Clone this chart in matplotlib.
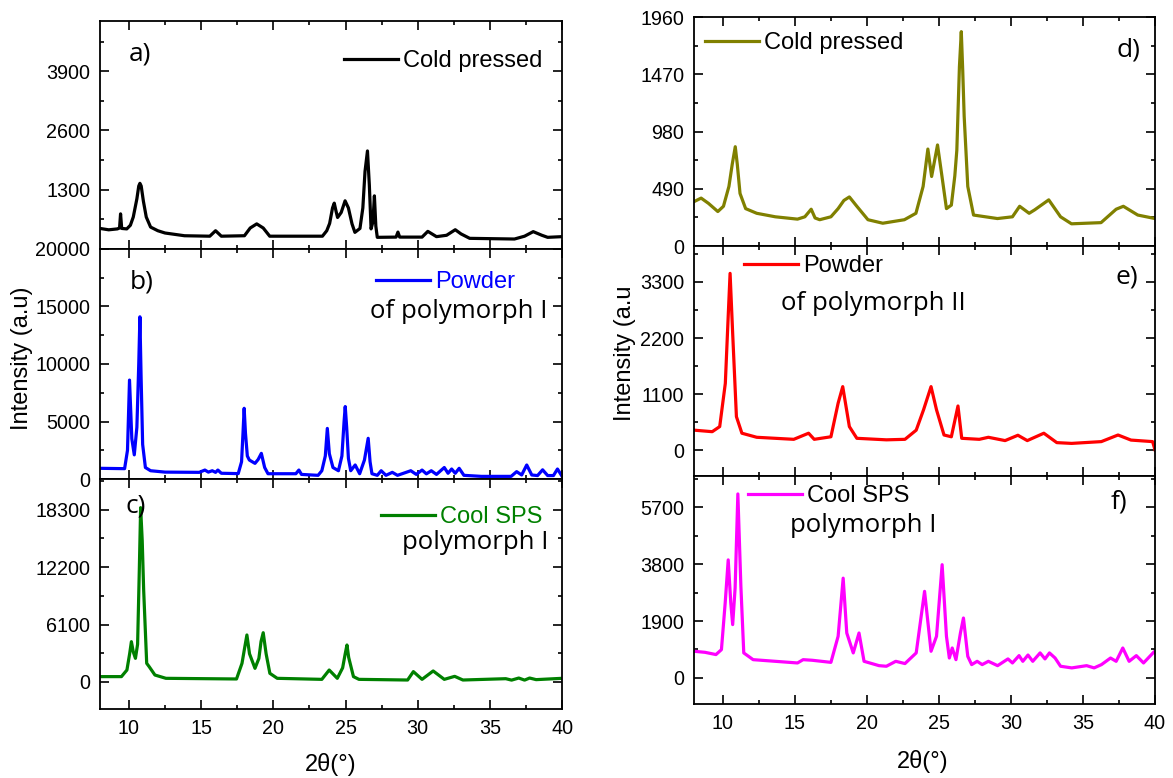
import matplotlib
matplotlib.use('Agg')
import matplotlib.pyplot as plt
from matplotlib.ticker import MultipleLocator, FixedLocator

plt.rcParams['font.family'] = ['Liberation Sans', 'DejaVu Sans']

# 2theta / intensity points, one list pair per pattern
a_x = [8.0, 8.6, 9.2, 9.35, 9.42, 9.5, 9.85, 10.1, 10.3, 10.55, 10.68, 10.76, 10.85, 11.0, 11.2, 11.5, 12.0, 12.5,
       13.85, 15.6, 16.0, 16.4, 18.0, 18.4, 18.85, 19.3, 19.75, 23.4, 23.7, 23.9, 24.1, 24.22, 24.35, 24.45, 24.7,
       24.97, 25.2, 25.45, 25.65, 26.0, 26.2, 26.35, 26.52, 26.65, 26.77, 26.9, 27.0, 27.1, 27.2, 28.5, 28.63,
       28.75, 30.3, 30.7, 31.3, 32.0, 32.6, 33.0, 33.6, 36.7, 37.4, 38.0, 38.6, 39.0, 40.0]
a_y = [450, 420, 440, 460, 770, 450, 440, 520, 700, 1100, 1380, 1440, 1380, 1050, 700, 480, 400, 350,
       290, 280, 400, 280, 290, 460, 550, 460, 280, 280, 400, 560, 900, 1005, 820, 690, 800,
       1056, 900, 550, 364, 450, 900, 1700, 2150, 1400, 440, 600, 1165, 500, 255, 260, 370,
       260, 260, 386, 270, 300, 422, 330, 233, 218, 280, 380, 300, 255, 270]

b_x = [8.0, 9.7, 9.9, 10.04, 10.2, 10.37, 10.55, 10.68, 10.76, 10.84, 10.95, 11.14, 11.5, 12.5, 14.87, 15.26, 15.5,
       15.77, 16.0, 16.16, 16.4, 17.57, 17.8, 17.9, 17.98, 18.07, 18.2, 18.34, 18.73, 18.95, 19.17, 19.4, 19.63,
       21.56, 21.77, 21.95, 23.1, 23.36, 23.6, 23.74, 23.88, 24.13, 24.51, 24.75, 24.9, 24.98, 25.08, 25.2,
       25.36, 25.67, 25.98, 26.31, 26.57, 26.7, 26.83, 27.2, 27.47, 27.8, 28.24, 28.6, 29.52, 29.9, 30.3, 30.6,
       30.94, 31.3, 31.84, 32.1, 32.35, 32.6, 32.87, 33.2, 34.41, 36.47, 36.85, 37.2, 37.55, 37.9, 38.3,
       38.65, 39.0, 39.4, 39.68, 40.0]
b_y = [930, 900, 2500, 8600, 3500, 2100, 4500, 10000, 14100, 9000, 3000, 1000, 720, 600, 580, 780, 600,
       720, 580, 780, 500, 470, 1500, 4000, 6150, 4000, 2000, 1650, 1360, 1700, 2230, 1000, 460,
       460, 780, 400, 320, 720, 2000, 4400, 2200, 1000, 720, 2000, 5000, 6300, 4500, 1800,
       720, 1220, 460, 1650, 3540, 1500, 460, 320, 720, 320, 580, 320, 720, 400, 780, 450,
       720, 400, 1000, 500, 870, 500, 930, 320, 230, 230, 640, 350, 1220, 350, 300,
       800, 300, 300, 870, 230]

c_x = [8.0, 9.48, 9.86, 10.05, 10.17, 10.3, 10.45, 10.6, 10.72, 10.81, 10.92, 11.02, 11.23, 11.4, 11.8, 12.56,
       17.45, 17.83, 18.0, 18.17, 18.35, 18.73, 19.0, 19.15, 19.3, 19.5, 19.76, 20.27, 23.36, 23.87, 24.43,
       24.8, 24.98, 25.1, 25.22, 25.55, 25.93, 29.3, 29.7, 30.3, 31.07, 31.84, 32.56, 33.13, 36.1, 36.5, 37.0,
       37.4, 37.75, 38.2, 40.0]
c_y = [570, 570, 1270, 3000, 4280, 3200, 2510, 4000, 12000, 18500, 15000, 9760, 1980, 1630, 740, 390,
       320, 1980, 3500, 4990, 3000, 1450, 2500, 4300, 5230, 3000, 920, 390, 280, 1270, 390,
       1500, 3000, 3925, 2600, 570, 280, 210, 1100, 280, 1170, 280, 600, 210, 350, 200, 420,
       200, 420, 250, 390]

d_x = [8.0, 8.49, 9.0, 9.65, 10.04, 10.42, 10.65, 10.86, 11.0, 11.19, 11.58, 12.35, 13.64, 15.18, 15.69, 16.13,
       16.4, 16.72, 17.5, 18.0, 18.4, 18.78, 19.3, 20.07, 21.1, 22.6, 23.4, 23.9, 24.23, 24.49, 24.9, 25.21,
       25.52, 25.86, 26.1, 26.24, 26.42, 26.55, 26.65, 26.75, 27.0, 27.4, 29.06, 30.1, 30.6, 31.26, 31.65,
       32.62, 33.44, 34.2, 36.25, 37.3, 37.8, 38.8, 40.0]
d_y = [380, 410, 365, 295, 340, 510, 700, 850, 700, 450, 320, 280, 250, 230, 250, 315,
       240, 225, 250, 320, 390, 420, 340, 225, 195, 225, 280, 510, 830, 595, 865, 595,
       320, 350, 600, 820, 1535, 1835, 1500, 1110, 510, 265, 235, 250, 340, 280, 310,
       395, 250, 190, 200, 315, 340, 265, 235]

e_x = [8.0, 9.26, 9.78, 10.17, 10.35, 10.5, 10.68, 10.94, 11.32, 12.35, 14.92, 15.95, 16.34, 17.5, 18.0, 18.32,
       18.78, 19.3, 21.35, 22.64, 23.42, 23.93, 24.45, 24.83, 25.35, 25.86, 26.32, 26.58, 27.8, 28.43, 29.59,
       30.48, 31.13, 32.28, 33.18, 34.21, 36.27, 37.43, 38.33, 39.83, 40.0]
e_y = [390, 360, 460, 1310, 2500, 3470, 2290, 655, 330, 250, 210, 330, 210, 260, 920, 1245,
       460, 230, 200, 210, 390, 790, 1245, 790, 295, 260, 865, 230, 210, 250, 185,
       290, 185, 330, 145, 130, 165, 295, 195, 165, 0]

f_x = [8.0, 8.76, 9.52, 9.9, 10.16, 10.37, 10.55, 10.68, 10.85, 11.04, 11.25, 11.45, 12.1, 13.64, 15.18, 15.57,
       16.2, 17.5, 18.0, 18.35, 18.6, 19.05, 19.45, 19.8, 20.84, 21.35, 22.0, 22.64, 23.42, 24.0, 24.45, 24.83,
       25.22, 25.52, 25.72, 25.92, 26.18, 26.49, 26.7, 27.0, 27.27, 27.65, 28.0, 28.43, 29.07, 29.79, 30.1,
       30.56, 30.82, 31.18, 31.51, 32.02, 32.36, 32.67, 33.06, 33.44, 34.22, 35.25, 35.77, 36.28, 36.91, 37.3,
       37.76, 38.2, 38.7, 39.2, 39.9]
f_y = [890, 855, 780, 945, 2500, 3940, 2500, 1780, 3000, 6140, 3055, 835, 610, 555, 500, 610,
       590, 520, 1390, 3330, 1500, 835, 1500, 555, 410, 390, 555, 480, 835, 2890, 890, 1390,
       3780, 1390, 665, 1000, 610, 1500, 2000, 720, 445, 555, 445, 555, 410, 635, 500,
       745, 555, 765, 555, 835, 635, 835, 665, 390, 335, 410, 335, 445, 665, 555,
       1000, 555, 745, 500, 855]

fig = plt.figure(figsize=(11.73, 7.78), dpi=100)

# axes boxes in figure fractions (left, bottom, width, height)
left_col = 0.0853
right_col = 0.5917
boxes = {
    'a': [left_col, 0.680, 0.3939, 0.293],
    'b': [left_col, 0.3843, 0.3939, 0.2957],
    'c': [left_col, 0.0887, 0.3939, 0.2956],
    'd': [right_col, 0.6838, 0.3930, 0.2943],
    'e': [right_col, 0.3882, 0.3930, 0.2956],
    'f': [right_col, 0.0951, 0.3930, 0.2931],
}

panels = [
    # key, x, y, colour, legend, legend text colour, ylim, major, minor
    ('a', a_x, a_y, 'black', 'Cold pressed', 'black', (0, 5000), [1300, 2600, 3900], 650),
    ('b', b_x, b_y, '#0000ff', 'Powder', '#0000ff', (0, 20000), [0, 5000, 10000, 15000, 20000], 2500),
    ('c', c_x, c_y, '#008000', 'Cool SPS', '#008000', (-2865, 21540), [0, 6100, 12200, 18300], 3050),
    ('d', d_x, d_y, '#808000', 'Cold pressed', 'black', (0, 1960), [0, 490, 980, 1470, 1960], 245),
    ('e', e_x, e_y, '#ff0000', 'Powder', 'black', (-510, 4007), [0, 1100, 2200, 3300], 550),
    ('f', f_x, f_y, '#ff00ff', 'Cool SPS', 'black', (-870, 6740), [0, 1900, 3800, 5700], 950),
]

# legend anchor (axes coords) and letter placement
leg_pos = {'a': (0.528, 0.825), 'b': (0.597, 0.857), 'c': (0.608, 0.835),
           'd': (0.024, 0.886), 'e': (0.108, 0.913), 'f': (0.117, 0.912)}
letters = {'a': (0.063, 0.855, 'left'), 'b': (0.065, 0.857, 'left'), 'c': (0.054, 0.883, 'left'),
           'd': (0.969, 0.856, 'right'), 'e': (0.963, 0.865, 'right'), 'f': (0.939, 0.886, 'right')}
extra = {'b': (0.584, 0.730, 'of polymorph I'), 'c': (0.654, 0.726, 'polymorph I'),
         'e': (0.189, 0.752, 'of polymorph II'), 'f': (0.208, 0.785, 'polymorph I')}

for key, xs, ys, col, lab, labcol, ylim, major, minor in panels:
    ax = fig.add_axes(boxes[key])
    ax.plot(xs, ys, color=col, lw=2.3, label=lab)
    ax.set_xlim(8, 40)
    ax.set_ylim(*ylim)
    ax.xaxis.set_major_locator(MultipleLocator(5))
    ax.xaxis.set_minor_locator(MultipleLocator(2.5))
    ax.yaxis.set_major_locator(FixedLocator(major))
    ax.yaxis.set_minor_locator(MultipleLocator(minor))
    ax.tick_params(which='both', direction='in', top=True, right=True, width=1.2, labelsize=14.2, pad=7)
    ax.tick_params(which='major', length=6.5)
    ax.tick_params(which='minor', length=3.2)
    for sp in ax.spines.values():
        sp.set_linewidth(1.3)
    if key not in ('c', 'f'):
        ax.tick_params(labelbottom=False)

    leg = ax.legend(loc='center left', bbox_to_anchor=leg_pos[key], frameon=False, fontsize=17,
                    handlelength=2.3, handletextpad=0.2, borderpad=0, borderaxespad=0)
    for t in leg.get_texts():
        t.set_color(labcol)

    lx, ly, ha = letters[key]
    ax.text(lx, ly, key + ')', transform=ax.transAxes, ha=ha, va='center', fontsize=19, family='Open Sans')
    if key in extra:
        ex, ey, txt = extra[key]
        ax.text(ex, ey, txt, transform=ax.transAxes, ha='left', va='center', fontsize=18.5, family='Open Sans')

fig.text(0.019, 0.54, 'Intensity (a.u)', rotation=90, ha='center', va='center', fontsize=17)
fig.text(0.533, 0.546, 'Intensity (a.u', rotation=90, ha='center', va='center', fontsize=17)
fig.text(0.282, 0.017, '2θ(°)', ha='center', va='center', fontsize=17)
fig.text(0.787, 0.021, '2θ(°)', ha='center', va='center', fontsize=17)

fig.savefig('out.png', dpi=100)
